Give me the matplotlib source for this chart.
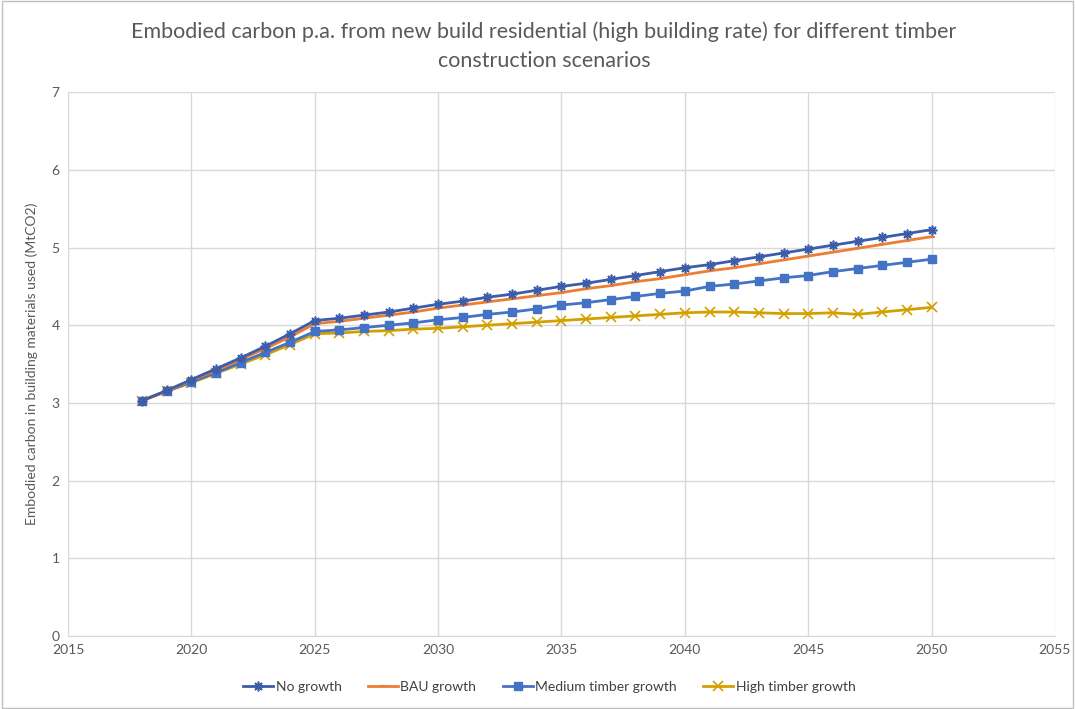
import matplotlib.pyplot as plt
import numpy as np

#%%

years = list(range(2018, 2051))

no_growth = [3.03, 3.16, 3.30, 3.44, 3.58, 3.73, 3.89, 4.06, 4.09, 4.13,
             4.17, 4.22, 4.27, 4.31, 4.36, 4.40, 4.45, 4.50, 4.54, 4.59,
             4.64, 4.69, 4.74, 4.78, 4.83, 4.88, 4.93, 4.98, 5.03, 5.08,
             5.13, 5.18, 5.23]

bau_growth = [3.03, 3.15, 3.29, 3.42, 3.56, 3.70, 3.85, 4.02, 4.05, 4.09,
              4.13, 4.17, 4.22, 4.26, 4.30, 4.34, 4.38, 4.42, 4.47, 4.51,
              4.56, 4.60, 4.65, 4.70, 4.74, 4.79, 4.84, 4.89, 4.94, 4.99,
              5.04, 5.09, 5.14]

medium_timber = [3.03, 3.15, 3.27, 3.39, 3.52, 3.65, 3.78, 3.92, 3.94, 3.97,
                 4.00, 4.03, 4.07, 4.10, 4.14, 4.17, 4.21, 4.26, 4.29, 4.33,
                 4.37, 4.41, 4.44, 4.50, 4.53, 4.57, 4.61, 4.64, 4.69, 4.73,
                 4.77, 4.81, 4.85]

high_timber = [3.03, 3.15, 3.26, 3.38, 3.50, 3.62, 3.75, 3.89, 3.90, 3.92,
               3.93, 3.95, 3.96, 3.98, 4.00, 4.02, 4.04, 4.06, 4.08, 4.10,
               4.12, 4.14, 4.16, 4.17, 4.17, 4.16, 4.15, 4.15, 4.16, 4.14,
               4.17, 4.20, 4.23]

x_ticks = list(range(2015, 2056, 5))
y_ticks = list(range(0, 8))

#%%

plt.rcParams['font.family'] = ['Lato', 'DejaVu Sans']
grey = '#595959'

fig = plt.figure(figsize=(10.75, 7.09), dpi=100)
ax = fig.add_axes([0.0633, 0.103, 0.918, 0.767])

ax.plot(years, no_growth, color='#3B5DAA', lw=2, marker=(8, 2, 0), ms=7,
        mew=1.2, label='No growth', zorder=5)
ax.plot(years, bau_growth, color='#ED7D31', lw=2, marker='_', ms=4,
        mew=1.5, label='BAU growth', zorder=4)
ax.plot(years, medium_timber, color='#4472C4', lw=2, marker='s', ms=6,
        label='Medium timber growth', zorder=3)
ax.plot(years, high_timber, color='#D4A000', lw=2, marker='x', ms=7,
        mew=1.2, label='High timber growth', zorder=2)

ax.set_xlim(2015, 2055)
ax.set_ylim(0, 7)
ax.set_xticks(x_ticks)
ax.set_yticks(y_ticks)
ax.grid(True, color='#d9d9d9', lw=1)
ax.set_axisbelow(True)
ax.tick_params(length=0, labelsize=10, colors=grey, pad=6)
for s in ['top', 'right', 'left']:
    ax.spines[s].set_visible(False)
ax.spines['bottom'].set_color('#d9d9d9')

ax.set_ylabel('Embodied carbon in building materials used (MtCO2)',
              fontsize=10, color=grey, labelpad=10)

# title
fig.text(0.506, 0.935,
         'Embodied carbon p.a. from new build residential (high building rate) for different timber\nconstruction scenarios',
         ha='center', va='center', fontsize=15.5, color=grey, linespacing=1.55)

fig.legend(loc='center', bbox_to_anchor=(0.511, 0.031), ncol=4, frameon=False,
           fontsize=10, labelcolor='#404040', handlelength=2.15,
           handletextpad=0.2, columnspacing=1.9)

border = plt.Rectangle((0.002, 0.002), 0.996, 0.996, transform=fig.transFigure,
                       fill=False, edgecolor='#bfbfbf', lw=1)
fig.patches.append(border)

fig.savefig('out.png', dpi=100)
